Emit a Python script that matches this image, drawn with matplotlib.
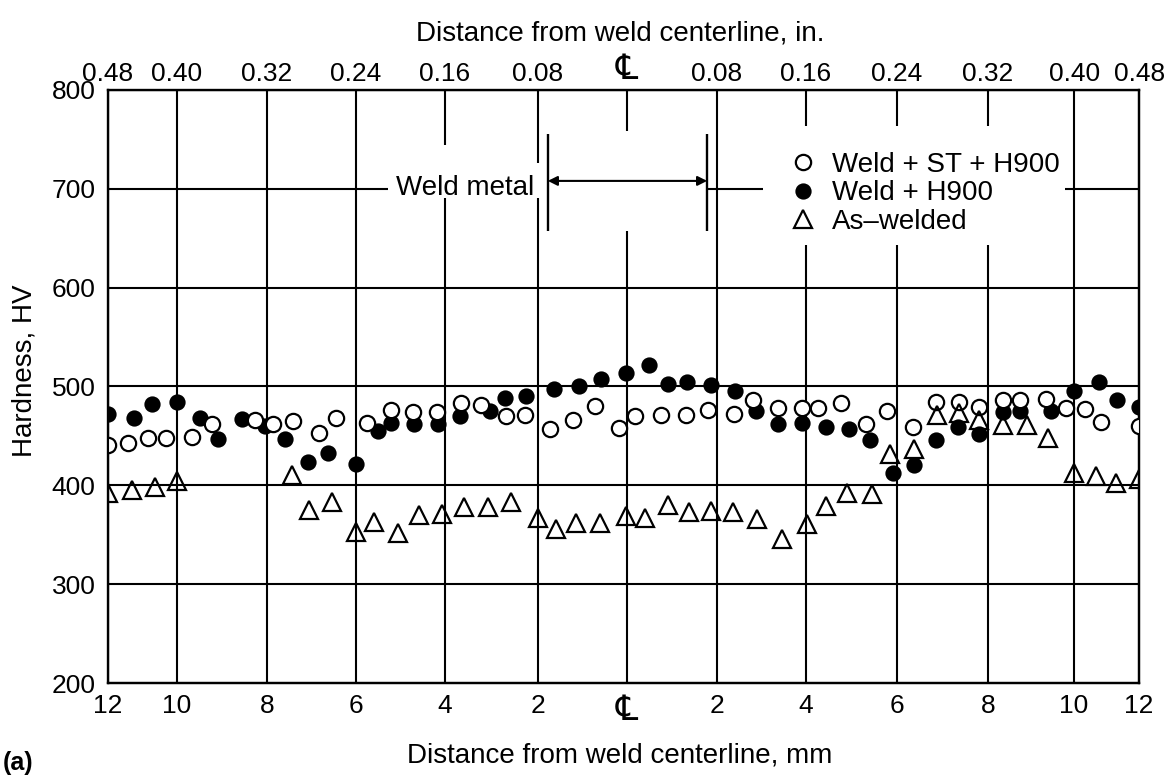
import numpy as np
import matplotlib
matplotlib.use("Agg")
import matplotlib.pyplot as plt
from matplotlib.patches import Rectangle

plt.rcParams['font.family'] = ['Liberation Sans', 'DejaVu Sans']

# distance from weld centerline in mm (left side negative), hardness in HV
st_h900_x = [-12.0, -11.41, -10.84, -10.31, -9.66, -9.22, -8.26, -7.87, -7.41, -6.84,
             -6.46, -5.76, -5.21, -4.72, -4.19, -3.65, -3.22, -2.69, -2.28, -1.74,
             -1.21, -0.71, -0.19, 0.18, 0.75, 1.31, 1.80, 2.38, 2.81, 3.38,
             3.90, 4.26, 4.77, 5.32, 5.77, 6.34, 6.86, 7.37, 7.81, 8.35,
             8.74, 9.35, 9.82, 10.33, 10.83, 12.0]
st_h900_hv = [441, 443, 448, 448, 449, 462, 466, 462, 465, 453,
              468, 463, 476, 474, 474, 483, 481, 470, 471, 457,
              466, 480, 458, 470, 471, 471, 476, 472, 486, 478,
              478, 478, 483, 462, 475, 459, 484, 484, 479, 486,
              486, 487, 478, 477, 464, 460]

h900_x = [-12.0, -11.26, -10.73, -10.0, -9.48, -9.08, -8.55, -8.04, -7.59, -7.07,
          -6.64, -6.0, -5.51, -5.21, -4.69, -4.15, -3.67, -3.03, -2.72, -2.26,
          -1.64, -1.09, -0.59, -0.02, 0.48, 0.90, 1.33, 1.87, 2.41, 2.87,
          3.37, 3.90, 4.44, 4.95, 5.41, 5.90, 6.37, 6.86, 7.33, 7.79,
          8.35, 8.74, 9.46, 10.0, 10.77, 11.33, 12.0]
h900_hv = [472, 468, 482, 484, 468, 447, 467, 460, 447, 424,
           433, 422, 455, 463, 462, 462, 470, 475, 488, 490,
           497, 501, 508, 514, 522, 503, 505, 502, 495, 475,
           462, 463, 459, 457, 446, 412, 421, 446, 459, 452,
           474, 475, 475, 495, 505, 486, 479]

as_welded_x = [-12.0, -11.31, -10.63, -10.0, -7.45, -7.05, -6.55, -6.0, -5.6, -5.06,
               -4.59, -4.07, -3.6, -3.08, -2.58, -2.01, -1.60, -1.14, -0.61, -0.02,
               0.41, 0.90, 1.37, 1.87, 2.36, 2.90, 3.46, 4.02, 4.44, 4.90,
               5.45, 5.85, 6.37, 6.87, 7.37, 7.81, 8.35, 8.91, 9.40, 10.0,
               10.67, 11.29, 12.0]
as_welded_hv = [392, 395, 398, 404, 410, 375, 383, 353, 363, 352,
                370, 371, 378, 378, 383, 367, 356, 362, 362, 369,
                367, 380, 373, 374, 373, 366, 346, 361, 379, 392,
                391, 432, 437, 471, 473, 466, 461, 461, 448, 412,
                409, 402, 406]

mm_ticks = [-12, -10, -8, -6, -4, -2, 0, 2, 4, 6, 8, 10, 12]
mm_labels = ['12', '10', '8', '6', '4', '2', '\u2104', '2', '4', '6', '8', '10', '12']
in_labels = ['0.48', '0.40', '0.32', '0.24', '0.16', '0.08', '\u2104',
             '0.08', '0.16', '0.24', '0.32', '0.40', '0.48']
hv_ticks = [200, 300, 400, 500, 600, 700, 800]

# the printed grid is not evenly spaced: the outer 2 mm cells are squeezed
grid_pos = np.array([108, 177, 267, 356, 445, 538, 627, 717, 806, 897, 988, 1074, 1139], float)
mm_arr = np.array(mm_ticks, float)


def fwd(x):
    x = np.asarray(x, float)
    y = np.interp(x, mm_arr, grid_pos)
    s0 = (grid_pos[1] - grid_pos[0]) / 2.0
    s1 = (grid_pos[-1] - grid_pos[-2]) / 2.0
    y = np.where(x < -12, grid_pos[0] + (x + 12) * s0, y)
    y = np.where(x > 12, grid_pos[-1] + (x - 12) * s1, y)
    return y


def inv(p):
    p = np.asarray(p, float)
    x = np.interp(p, grid_pos, mm_arr)
    s0 = 2.0 / (grid_pos[1] - grid_pos[0])
    s1 = 2.0 / (grid_pos[-1] - grid_pos[-2])
    x = np.where(p < grid_pos[0], -12 + (p - grid_pos[0]) * s0, x)
    x = np.where(p > grid_pos[-1], 12 + (p - grid_pos[-1]) * s1, x)
    return x


fig = plt.figure(figsize=(11.69, 7.75), dpi=100)
ax = fig.add_axes([0.0924, 0.1187, 0.8820, 0.7652])
ax.set_xscale('function', functions=(fwd, inv))
ax.set_xlim(-12, 12)
ax.set_ylim(200, 800)
ax.set_xticks(mm_ticks, mm_labels)
ax.set_yticks(hv_ticks)
ax.tick_params(length=0, labelsize=19)
ax.tick_params(axis='x', pad=8)
ax.tick_params(axis='y', pad=9)
ax.set_axisbelow(True)
ax.grid(True, color='black', lw=1.5)
for sp in ax.spines.values():
    sp.set_linewidth(1.7)

ax2 = ax.twiny()
ax2.set_xscale('function', functions=(fwd, inv))
ax2.set_xlim(-12, 12)
ax2.set_xticks(mm_ticks, in_labels)
ax2.tick_params(length=0, labelsize=19, pad=3)

# centerline symbol is drawn larger in the original
for lbl in ax.get_xticklabels() + ax2.get_xticklabels():
    if lbl.get_text() == '\u2104':
        lbl.set_fontsize(25)

# white areas where the grid is interrupted by the annotations
masks = [(-5.28, 691, -2.1, 744), (-2.1, 691, -1.8, 726),
         (-1.78, 657, 1.78, 758), (3.03, 643, 9.79, 764)]
for x0, y0, x1, y1 in masks:
    ax.add_patch(Rectangle((x0, y0), x1 - x0, y1 - y0, facecolor='white',
                           edgecolor='none', zorder=1))

ax.plot(h900_x, h900_hv, 'o', ms=10.5, color='black', mew=1.2, zorder=3,
        label='Weld + H900')
ax.plot(st_h900_x, st_h900_hv, 'o', ms=11, mfc='white', mec='black', mew=1.6,
        zorder=4, label='Weld + ST + H900')
ax.plot(as_welded_x, as_welded_hv, '^', ms=13.5, mfc='none', mec='black', mew=1.6,
        zorder=5, label='As\u2013welded')

# weld metal zone
ax.vlines([-1.78, 1.78], 657, 755, color='black', lw=1.7, zorder=2)
ax.annotate('', xy=(-1.78, 708), xytext=(1.78, 708),
            arrowprops=dict(arrowstyle='<|-|>', color='black', lw=1.5,
                            mutation_scale=14, shrinkA=0, shrinkB=0), zorder=2)
ax.text(-3.57, 694, 'Weld metal', fontsize=20, ha='center', va='baseline', zorder=2)

handles, labels = ax.get_legend_handles_labels()
order = [1, 0, 2]
ax.legend([handles[i] for i in order], [labels[i] for i in order],
          loc='upper left', bbox_to_anchor=(0.6605, 0.896), frameon=False,
          borderpad=0, borderaxespad=0, handlelength=1.0, handletextpad=0.54,
          labelspacing=0.1, fontsize=20, numpoints=1)

ax.set_xlabel('Distance from weld centerline, mm', fontsize=20)
ax.xaxis.set_label_coords(0.4966, -0.101)
ax2.set_xlabel('Distance from weld centerline, in.', fontsize=20)
ax2.xaxis.set_label_coords(0.4966, 1.0826)
ax.set_ylabel('Hardness, HV', fontsize=20)
ax.yaxis.set_label_coords(-0.068, 0.526)

fig.text(0.002, 0.0, '(a)', fontsize=18, fontweight='bold', ha='left', va='bottom')

fig.savefig('out.png', dpi=100)
